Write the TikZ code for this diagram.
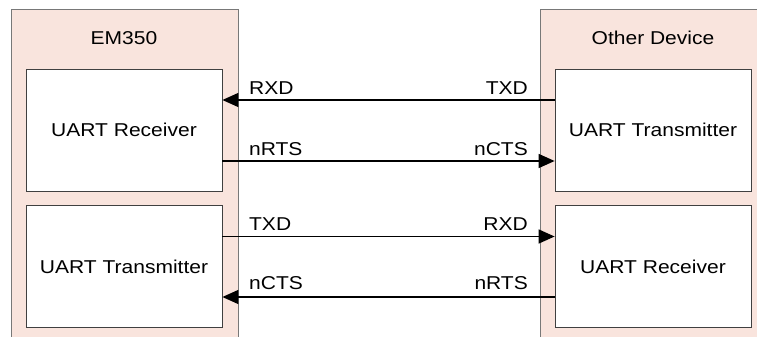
\documentclass[tikz,border=0pt]{standalone}
\usepackage{fontspec}
\setmainfont{Liberation Sans}[FakeStretch=1.13]
\usepackage{tikz}
\usetikzlibrary{arrows.meta}
\definecolor{panelpink}{RGB}{249,228,221}
\definecolor{panelgray}{RGB}{120,120,120}
\tikzset{>={Triangle[length=16pt,width=14pt]}}
\tikzset{
  unit/.style={draw=black!75, fill=white, line width=0.8pt, minimum width=196pt, minimum height=122pt, inner sep=0pt, font=\fontsize{18.6}{22}\selectfont},
  lbl/.style={inner sep=0pt, font=\fontsize{18.6}{22}\selectfont},
  sig/.style={->, line width=1.5pt}
}

\begin{document}
\begin{tikzpicture}[x=1pt,y=-1pt]
        \useasboundingbox (0,0) rectangle (757,337);
        % the two devices
        \fill[panelpink] (11,9) rectangle (238,337);
        \draw[panelgray, line width=0.8pt] (11,337) -- (11,9) -- (238,9) -- (238,337);
        \fill[panelpink] (540,9) rectangle (757,337);
        \draw[panelgray, line width=0.8pt] (540,337) -- (540,9) -- (757,9);
        \node[lbl, anchor=base] at (124,45) (em) {EM350};
        \node[lbl, anchor=base] at (653,45) (other) {Other Device};

        \node[unit] at (124,130) (rxL) {UART Receiver};
        \node[unit] at (124,266.5) (txL) {UART Transmitter};
        \node[unit] at (653,130) (txR) {UART Transmitter};
        \node[unit] at (653,266.5) (rxR) {UART Receiver};

        % signals
        \draw[sig] ([yshift=30pt]txR.west) node[lbl, anchor=base east, xshift=-26pt, yshift=6pt]{TXD}
             -- ([yshift=30pt]rxL.east) node[lbl, anchor=base west, xshift=26pt, yshift=6pt]{RXD};
        \draw[sig] ([yshift=-31pt]rxL.east) node[lbl, anchor=base west, xshift=26pt, yshift=6pt]{nRTS}
             -- ([yshift=-31pt]txR.west) node[lbl, anchor=base east, xshift=-26pt, yshift=6pt]{nCTS};
        \draw[sig] ([yshift=30pt]txL.east) node[lbl, anchor=base west, xshift=26pt, yshift=6pt]{TXD}
             -- ([yshift=30pt]rxR.west) node[lbl, anchor=base east, xshift=-26pt, yshift=6pt]{RXD};
        \draw[sig] ([yshift=-30.5pt]rxR.west) node[lbl, anchor=base east, xshift=-26pt, yshift=8pt]{nRTS}
             -- ([yshift=-30.5pt]txL.east) node[lbl, anchor=base west, xshift=26pt, yshift=8pt]{nCTS};
\end{tikzpicture}
\end{document}
